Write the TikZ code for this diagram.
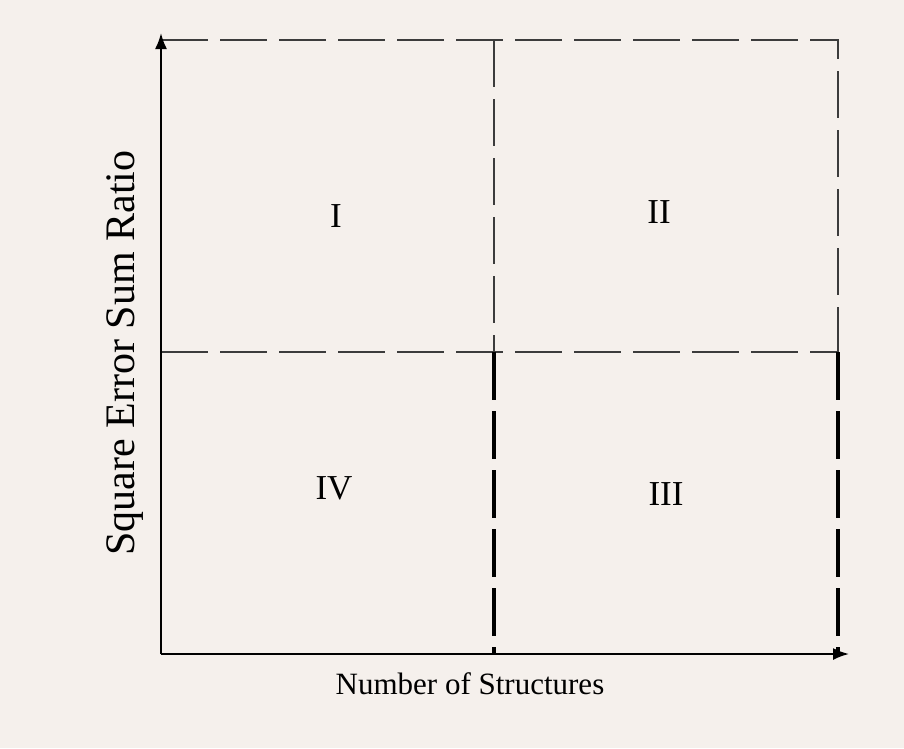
\documentclass[tikz,border=0pt]{standalone}
\usepackage{fontspec}
\setmainfont{Liberation Serif}
\usetikzlibrary{arrows.meta}
\definecolor{paper}{RGB}{245,240,236}
\definecolor{guide}{RGB}{60,60,60}

\begin{document}
\begin{tikzpicture}[
  x=1pt,y=-1pt,
  axis/.style={-{Latex[length=16pt,width=12pt]},line width=2pt},
  split/.style={guide,line width=2pt,dash pattern=on 47pt off 12pt},
  splitb/.style={black,line width=3.5pt,dash pattern=on 48pt off 11pt},
  zone/.style={font=\fontsize{35}{35}\selectfont,inner sep=0pt},
  title/.style={font=\fontsize{31}{31}\selectfont,inner sep=0pt}
]
  \fill[paper] (0,0) rectangle (904,748);

  \coordinate (o) at (161,654);
  \coordinate (ytop) at (161,33);
  \coordinate (xend) at (849,654);
  \coordinate (tl) at (161,40);
  \coordinate (tm) at (494,40);
  \coordinate (tr) at (838,40);
  \coordinate (ml) at (161,352);
  \coordinate (mm) at (494,352);
  \coordinate (mr) at (838,352);
  \coordinate (bm) at (494,654);
  \coordinate (br) at (838,654);

  \draw[split] (tl) -- (tr) -- (mr);
  \draw[split] (ml) -- (mr);
  \draw[split] (tm) -- (mm);
  \draw[splitb] (mm) -- (bm);
  \draw[splitb] (mr) -- (br);
  \draw[axis] (o) -- (ytop);
  \draw[axis] (o) -- (xend);

  \node[zone] (q1) at (336,216) {I};
  \node[zone] (q2) at (659,212) {II};
  \node[zone] (q3) at (666,494) {III};
  \node[zone] (q4) at (334,488) {IV};

  \node[title] (xlab) at (470,684) {Number of Structures};
  \node[title,font=\fontsize{42}{42}\selectfont,rotate=90] (ylab) at (125,353) {Square Error Sum Ratio};
\end{tikzpicture}
\end{document}
